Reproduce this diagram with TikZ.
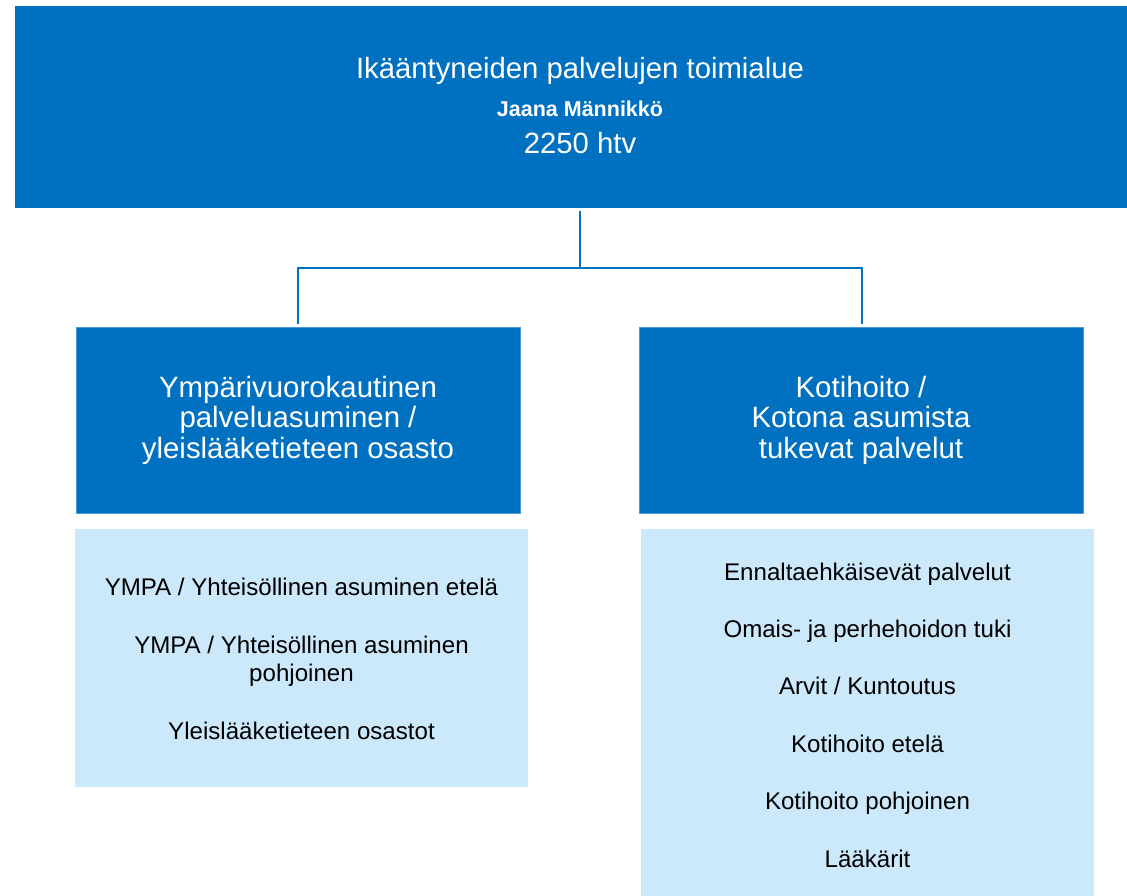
\documentclass[tikz,border=0pt]{standalone}
\usepackage{fontspec}
\setmainfont{Liberation Sans}
\definecolor{dblue}{HTML}{0070C0}
\definecolor{lblue}{HTML}{CCE8FB}
\begin{document}
\begin{tikzpicture}[x=1pt,y=-1pt,
  darkbox/.style={fill=dblue, draw=dblue!70!white, line width=0.6pt, inner sep=0pt, minimum width=444pt, minimum height=186pt, text=white, align=center, font=\fontsize{29.4}{30.5}\selectfont},
  lightbox/.style={fill=lblue, draw=none, inner sep=0pt},
  item/.style={text=black, align=center, inner sep=0pt, anchor=base, font=\fontsize{24.1}{28.4}\selectfont},
  conn/.style={draw=dblue, line width=2.5pt}]
\useasboundingbox (0,0) rectangle (1127,896);
% top box
\node[fill=dblue, draw=none, inner sep=0pt, minimum width=1112pt, minimum height=202pt, anchor=north west] (top) at (15,6) {};
\node[text=white, inner sep=0pt, font=\fontsize{29.3}{30}\selectfont] (t1) at (580,71) {Ikääntyneiden palvelujen toimialue};
\node[text=white, inner sep=0pt, font=\fontsize{21.5}{22}\selectfont\bfseries] (t2) at (580,109) {Jaana Männikkö};
\node[text=white, inner sep=0pt, font=\fontsize{29.3}{30}\selectfont] (t3) at (580,143) {2250 htv};
% headers
\node[darkbox] (lh) at (298,420) {Ympärivuorokautinen\\palveluasuminen /\\yleislääketieteen osasto};
\node[darkbox] (rh) at (861,420) {Kotihoito /\\Kotona asumista\\tukevat palvelut};
% light boxes
\node[lightbox, minimum width=453pt, minimum height=258pt, anchor=north west] (lb) at (75,529) {};
\node[lightbox, minimum width=453pt, minimum height=367pt, anchor=north west] (rb) at (641,529) {};
% left items
\node[item] (l1) at (301.5,595) {YMPA / Yhteisöllinen asuminen etelä};
\node[item] (l2) at (301.5,681.7) {YMPA / Yhteisöllinen asuminen\\pohjoinen};
\node[item] (l3) at (301.5,739) {Yleislääketieteen osastot};
% right items
\node[item] (r1) at (867.5,580) {Ennaltaehkäisevät palvelut};
\node[item] (r2) at (867.5,637.5) {Omais- ja perhehoidon tuki};
\node[item] (r3) at (867.5,694.5) {Arvit / Kuntoutus};
\node[item] (r4) at (867.5,752) {Kotihoito etelä};
\node[item] (r5) at (867.5,809.5) {Kotihoito pohjoinen};
\node[item] (r6) at (867.5,867.5) {Lääkärit};
% connectors
\coordinate (j) at (580,268);
\draw[conn, shorten <=3pt] (top.south -| j) -- (j);
\draw[conn, shorten >=3pt] (j) -| (lh.north);
\draw[conn, shorten >=3pt] (j) -| ([xshift=1pt]rh.north);
\end{tikzpicture}
\end{document}
